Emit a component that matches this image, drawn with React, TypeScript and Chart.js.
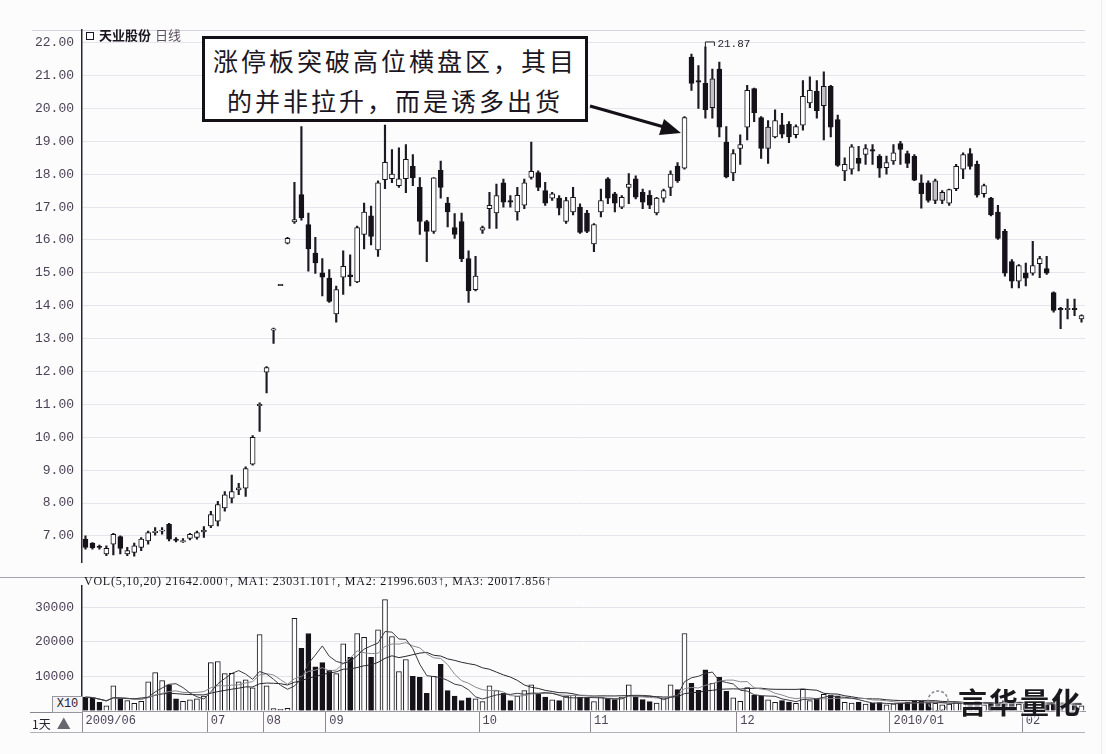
import React, { useEffect, useRef } from 'react';
import { Chart, registerables } from 'chart.js';

Chart.register(...registerables);

// ---- Daily candles (price, yuan) ----
const openP = [
  6.90, 6.78, 6.68, 6.45, 6.75, 6.98, 6.45, 6.50, 6.65, 6.85,
  7.10, 7.14, 7.35, 6.90, 6.82, 6.92, 6.95, 7.12, 7.30, 7.45,
  7.85, 8.15, 8.40, 8.45, 9.18, 10.96, 11.98, 13.26, 14.61, 15.90,
  16.55, 17.38, 16.47, 15.60, 15.00, 14.84, 13.75, 14.87, 14.94, 14.72,
  16.17, 16.73, 15.70, 17.83, 17.86, 17.65, 17.86, 18.24, 17.60, 16.56,
  16.26, 18.12, 17.12, 16.38, 16.56, 15.43, 14.49, 16.30, 16.95, 16.82,
  17.74, 17.20, 16.85, 17.06, 17.90, 18.05, 17.50, 17.27, 17.27, 16.56,
  16.85, 17.00, 16.82, 15.88, 16.85, 17.86, 17.40, 17.00, 17.60, 17.86,
  17.45, 17.36, 16.82, 17.27, 17.60, 18.25, 18.18, 21.56, 20.85, 20.76,
  20.02, 21.20, 18.98, 18.04, 18.78, 19.43, 20.60, 19.72, 18.78, 19.13,
  19.50, 19.52, 19.20, 19.49, 20.17, 20.52, 20.08, 20.67, 19.66, 18.10,
  18.15, 18.48, 18.60, 18.75, 18.54, 18.20, 18.40, 18.93, 18.63, 18.54,
  17.74, 17.74, 17.20, 17.20, 17.12, 17.56, 18.15, 18.63, 18.30, 17.41,
  17.27, 16.85, 16.26, 15.34, 14.75, 15.00, 14.99, 15.28, 15.13, 14.40,
  13.92, 13.88, 13.92, 13.60,
];
const highP = [
  7.00, 6.80, 6.72, 6.70, 7.08, 7.00, 6.65, 6.78, 6.95, 7.15,
  7.25, 7.25, 7.38, 6.95, 6.92, 7.08, 7.15, 7.28, 7.75, 8.05,
  8.35, 8.85, 8.60, 9.10, 10.05, 11.05, 12.15, 13.32, 14.65, 16.08,
  17.75, 19.45, 16.82, 16.08, 15.43, 15.10, 14.60, 15.67, 15.55, 16.42,
  17.12, 17.03, 17.80, 19.49, 18.75, 18.80, 18.90, 18.60, 17.90, 16.60,
  17.90, 18.40, 17.30, 16.80, 16.82, 15.67, 15.50, 16.42, 17.45, 17.70,
  17.85, 17.35, 17.60, 17.85, 18.98, 18.10, 17.75, 17.45, 17.35, 17.30,
  17.60, 17.10, 16.90, 16.50, 17.55, 17.90, 17.45, 17.35, 18.02, 17.95,
  17.55, 17.50, 17.30, 17.55, 18.10, 18.35, 19.75, 21.65, 21.30, 21.87,
  21.20, 21.41, 19.45, 18.75, 19.20, 20.70, 20.62, 19.75, 19.63, 19.96,
  19.85, 19.60, 19.50, 20.85, 20.96, 20.85, 21.11, 20.70, 19.80, 18.50,
  18.90, 18.85, 18.90, 18.90, 18.60, 18.55, 18.90, 19.00, 18.70, 18.60,
  17.98, 17.80, 17.85, 17.50, 17.55, 18.30, 18.65, 18.78, 18.40, 17.70,
  17.30, 17.05, 16.32, 15.40, 15.25, 15.30, 15.96, 15.50, 15.50, 14.42,
  13.95, 14.20, 14.20, 13.72,
];
const lowP = [
  6.60, 6.60, 6.60, 6.40, 6.42, 6.45, 6.40, 6.38, 6.55, 6.75,
  7.02, 7.05, 6.85, 6.82, 6.80, 6.88, 6.90, 6.95, 7.25, 7.30,
  7.75, 8.00, 8.25, 8.20, 9.15, 10.18, 11.35, 12.85, 14.61, 15.88,
  16.50, 16.60, 15.05, 14.98, 14.30, 14.10, 13.50, 14.34, 14.60, 14.70,
  15.73, 15.85, 15.50, 17.56, 17.74, 17.60, 17.44, 17.65, 16.17, 15.34,
  16.20, 17.27, 16.40, 16.05, 15.34, 14.10, 14.45, 16.20, 16.35, 16.35,
  17.00, 17.00, 16.60, 16.95, 17.85, 17.50, 17.05, 17.20, 16.76, 16.50,
  16.76, 16.20, 16.22, 15.64, 16.70, 17.10, 16.85, 16.95, 17.10, 17.25,
  16.95, 16.95, 16.76, 17.15, 17.35, 17.75, 18.15, 20.55, 20.00, 19.70,
  19.70, 19.13, 17.89, 17.80, 18.30, 19.04, 19.60, 18.48, 18.33, 19.10,
  19.10, 18.96, 19.10, 19.34, 20.02, 19.70, 19.04, 19.13, 18.24, 17.80,
  18.00, 18.10, 18.30, 18.30, 17.90, 18.00, 18.30, 18.30, 18.20, 17.80,
  16.97, 17.15, 17.10, 17.10, 17.05, 17.50, 17.86, 18.15, 17.30, 17.30,
  16.73, 16.02, 14.90, 14.54, 14.54, 14.60, 14.93, 14.85, 14.95, 13.80,
  13.30, 13.60, 13.70, 13.50,
];
const closeP = [
  6.65, 6.64, 6.65, 6.62, 7.05, 6.62, 6.55, 6.70, 6.90, 7.10,
  7.14, 7.18, 6.90, 6.86, 6.86, 7.05, 7.10, 7.18, 7.65, 7.95,
  8.25, 8.35, 8.46, 9.05, 10.00, 11.00, 12.12, 13.30, 14.65, 16.05,
  16.62, 16.68, 15.73, 15.30, 14.87, 14.13, 14.49, 15.20, 14.88, 16.38,
  16.85, 16.11, 17.74, 18.36, 18.00, 17.86, 18.45, 17.89, 16.56, 16.26,
  17.89, 17.60, 16.85, 16.17, 15.43, 14.46, 14.90, 16.38, 17.05, 17.35,
  17.15, 17.15, 17.36, 17.74, 18.09, 17.60, 17.12, 17.40, 16.97, 17.20,
  17.30, 16.23, 16.26, 16.47, 17.20, 17.27, 17.12, 17.30, 17.70, 17.30,
  17.15, 17.06, 17.27, 17.50, 18.00, 17.80, 19.72, 20.76, 20.80, 19.96,
  20.90, 19.43, 17.92, 18.63, 18.90, 20.55, 19.87, 18.78, 19.43, 19.63,
  19.22, 19.13, 19.45, 20.37, 20.55, 19.93, 20.67, 19.43, 18.27, 18.30,
  18.83, 18.33, 18.78, 18.70, 18.18, 18.35, 18.65, 18.75, 18.33, 17.82,
  17.41, 17.20, 17.80, 17.45, 17.53, 18.24, 18.60, 18.24, 17.36, 17.65,
  16.76, 16.05, 14.99, 14.75, 15.22, 14.84, 15.22, 15.43, 14.99, 13.86,
  13.88, 13.92, 13.88, 13.70,
];
// candles drawn with a grey body in the source
const grayCandles = [90, 98, 106, 122, 123];

// ---- Daily volume (hands) ----
const volume = [
  4000, 3800, 2500, 1500, 7300, 3600, 3000, 2200, 2800, 8400,
  11100, 8800, 7600, 3500, 2800, 3200, 3500, 4300, 14000, 14300,
  10800, 10900, 8400, 9000, 6700, 22100, 7300, 700, 500, 800,
  26800, 18100, 22400, 12800, 14000, 11800, 10800, 19400, 15500, 22400,
  21300, 15500, 23500, 32200, 21500, 11400, 14900, 10000, 9700, 5100,
  10000, 13500, 5900, 4300, 3000, 3800, 3500, 2700, 7300, 5900,
  5100, 3000, 4300, 5900, 7600, 4900, 4000, 3200, 3000, 4300,
  4500, 4000, 3800, 2700, 4000, 3500, 3300, 4000, 7600, 4300,
  3300, 2700, 2300, 3800, 7600, 6200, 22400, 8000, 6000, 11900,
  8000, 9700, 5700, 3800, 2800, 6800, 4500, 4300, 3200, 2500,
  3000, 2600, 2200, 6300, 3000, 3500, 4800, 4600, 4400, 2500,
  2300, 2600, 2000, 2200, 2400, 1800, 2100, 2300, 2600, 3000,
  2800, 2400, 2200, 1800, 2000, 2600, 2400, 2200, 2900, 1800,
  2300, 2500, 3000, 2800, 2000, 1900, 2300, 1800, 1700, 2500,
  2200, 1800, 1600, 1500,
];

// ---- Axis ticks / labels ----
const priceTicks = [7, 8, 9, 10, 11, 12, 13, 14, 15, 16, 17, 18, 19, 20, 21, 22];
const priceTickLabels = ['7.00', '8.00', '9.00', '10.00', '11.00', '12.00', '13.00', '14.00', '15.00', '16.00', '17.00', '18.00', '19.00', '20.00', '21.00', '22.00'];
const volumeTicks = [0, 10000, 20000, 30000];
const volumeTickLabels = ['', '10000', '20000', '30000'];
const monthIndex = [0, 18, 26, 35, 57, 73, 94, 116, 135];
const monthLabels = ['2009/06', '07', '08', '09', '10', '11', '12', '2010/01', '02'];
const maPeriods = [5, 10, 20];
const highMarkIndex = 89;

const categories = openP.map((_, i) => {
  const k = monthIndex.indexOf(i);
  return k >= 0 ? monthLabels[k] : '';
});

const movingAverage = (vals: number[], n: number) =>
  vals.map((_, i) => {
    const w = vals.slice(Math.max(0, i - n + 1), i + 1);
    return w.reduce((a, b) => a + b, 0) / w.length;
  });

const INK = '#16121a';
const TICK_COLOR = '#4d4258';
const TICK_FONT = { family: 'Liberation Mono', size: 13 };

export default function App() {
  const priceRef = useRef<HTMLCanvasElement | null>(null);
  const volRef = useRef<HTMLCanvasElement | null>(null);

  useEffect(() => {
    const bodyColors = openP.map((o, i) =>
      closeP[i] >= o ? (grayCandles.includes(i) ? '#c2c0c6' : '#ffffff') : INK
    );

    const markerPlugin = {
      id: 'highMarker',
      afterDatasetsDraw(chart: any) {
        const { ctx, scales } = chart;
        const x = scales.x.getPixelForValue(highMarkIndex);
        const y = scales.y.getPixelForValue(highP[highMarkIndex]);
        ctx.save();
        ctx.strokeStyle = '#222';
        ctx.lineWidth = 1;
        ctx.beginPath();
        ctx.moveTo(x, y);
        ctx.lineTo(x, y - 5);
        ctx.lineTo(x + 9, y - 5);
        ctx.lineTo(x + 9, y - 1);
        ctx.stroke();
        ctx.fillStyle = '#2a2430';
        ctx.font = '11px "Liberation Mono"';
        ctx.textBaseline = 'middle';
        ctx.fillText(highP[highMarkIndex].toFixed(2), x + 12, y - 3);
        ctx.restore();
      },
    };

    const priceChart = new Chart(priceRef.current as HTMLCanvasElement, {
      type: 'bar',
      data: {
        labels: categories,
        datasets: [
          {
            type: 'bar',
            label: 'body',
            data: openP.map((o, i) => [o, closeP[i]]) as any,
            backgroundColor: bodyColors,
            borderColor: INK,
            borderWidth: 1,
            borderSkipped: false,
            barThickness: 5,
            grouped: false,
            order: 0,
          } as any,
          {
            type: 'bar',
            label: 'wick',
            data: lowP.map((l, i) => [l, highP[i]]) as any,
            backgroundColor: '#1e1a24',
            borderWidth: 0,
            barThickness: 1.5,
            grouped: false,
            order: 1,
          } as any,
        ],
      },
      options: {
        responsive: false,
        animation: false,
        layout: { padding: { top: 30, right: 21, bottom: 1, left: 0 } },
        plugins: { legend: { display: false }, tooltip: { enabled: false } },
        scales: {
          x: { type: 'category', display: false, offset: true },
          y: {
            min: 6.2,
            max: 22.385,
            afterBuildTicks: (s: any) => {
              s.ticks = priceTicks.map((v) => ({ value: v }));
            },
            afterFit: (s: any) => {
              s.width = 82;
            },
            ticks: {
              callback: (v: any) => priceTickLabels[priceTicks.indexOf(Number(v))] ?? '',
              font: TICK_FONT,
              color: TICK_COLOR,
              padding: 8,
            },
            grid: { color: '#e5e5eb', drawTicks: false },
            border: { display: true, color: '#2c2632', width: 1.5 },
          },
        },
      } as any,
      plugins: [markerPlugin],
    });

    const volColors = openP.map((o, i) => (closeP[i] >= o ? '#ffffff' : INK));
    const maColors = ['#3c3a40', '#8a888e', '#2a282e'];

    const volChart = new Chart(volRef.current as HTMLCanvasElement, {
      type: 'bar',
      data: {
        labels: categories,
        datasets: [
          ...maPeriods.map((p, k) => ({
            type: 'line',
            label: 'MA' + p,
            data: movingAverage(volume, p),
            borderColor: maColors[k],
            borderWidth: 1,
            pointRadius: 0,
            tension: 0,
            order: k,
          })),
          {
            type: 'bar',
            label: 'VOL',
            data: volume,
            backgroundColor: volColors,
            borderColor: INK,
            borderWidth: 1,
            barThickness: 5,
            order: 10,
          },
        ] as any,
      },
      options: {
        responsive: false,
        animation: false,
        layout: { padding: { top: 7, right: 21, bottom: 21, left: 0 } },
        plugins: { legend: { display: false }, tooltip: { enabled: false } },
        scales: {
          x: {
            type: 'category',
            offset: true,
            afterFit: (s: any) => {
              s.height = 22;
            },
            grid: {
              offset: true,
              drawOnChartArea: false,
              drawTicks: true,
              tickLength: 21,
              color: (ctx: any) => (monthIndex.includes(ctx.index) ? '#8e8694' : 'rgba(0,0,0,0)'),
            },
            border: { display: true, color: '#9c98a0' },
            ticks: {
              autoSkip: false,
              maxRotation: 0,
              minRotation: 0,
              align: 'start',
              padding: -18,
              callback: (_v: any, i: number) => categories[i],
              font: { family: 'Liberation Mono', size: 12 },
              color: TICK_COLOR,
            },
          },
          y: {
            min: 0,
            max: 36200,
            afterBuildTicks: (s: any) => {
              s.ticks = volumeTicks.map((v) => ({ value: v }));
            },
            afterFit: (s: any) => {
              s.width = 82;
            },
            ticks: {
              callback: (v: any) => volumeTickLabels[volumeTicks.indexOf(Number(v))] ?? '',
              font: TICK_FONT,
              color: TICK_COLOR,
              padding: 8,
            },
            grid: { color: '#e2e2e8', drawTicks: false },
            border: { display: true, color: '#2c2632', width: 1.5 },
          },
        },
      } as any,
    });

    return () => {
      priceChart.destroy();
      volChart.destroy();
    };
  }, []);

  const line = (left: number, top: number, width: number, color: string) => (
    <div style={{ position: 'absolute', left, top, width, height: 1, background: color }} />
  );

  return (
    <div
      style={{
        position: 'fixed',
        left: 0,
        top: 0,
        width: 1106,
        height: 754,
        background: '#fcfcfd',
        overflow: 'hidden',
      }}
    >
      {line(32, 30, 1053, '#d6d4da')}
      {line(0, 577, 1085, '#a8a4ac')}
      {line(30, 732, 1055, '#b4b0b8')}
      {line(30, 712, 52, '#8a8690')}
      <div style={{ position: 'absolute', left: 1101, top: 0, width: 1, height: 754, background: '#ececee' }} />

      <canvas ref={priceRef} width={1106} height={578} style={{ position: 'absolute', left: 0, top: 0 }} />
      <canvas ref={volRef} width={1106} height={184} style={{ position: 'absolute', left: 0, top: 570 }} />

      {/* title */}
      <div
        style={{
          position: 'absolute',
          left: 86,
          top: 32,
          width: 6,
          height: 6,
          border: '1.5px solid #1a1620',
        }}
      />
      <div
        style={{
          position: 'absolute',
          left: 99,
          top: 26,
          fontFamily: '"Noto Sans CJK SC", sans-serif',
          fontSize: 13,
          color: '#1a1620',
          whiteSpace: 'nowrap',
          lineHeight: '18px',
        }}
      >
        <span style={{ fontWeight: 700 }}>天业股份</span>
        <span style={{ color: '#5a5060', marginLeft: 4 }}>日线</span>
      </div>

      {/* annotation */}
      <div
        style={{
          position: 'absolute',
          left: 202,
          top: 36,
          width: 380,
          height: 79,
          border: '3px solid #141018',
          background: '#ffffff',
          fontFamily: '"Noto Sans CJK SC", sans-serif',
          fontSize: 25,
          color: '#1c1622',
          textAlign: 'center',
          lineHeight: '40px',
          letterSpacing: 3,
          paddingTop: 1,
          boxSizing: 'content-box',
        }}
      >
        <div style={{ whiteSpace: 'nowrap' }}>涨停板突破高位横盘区，其目</div>
        <div style={{ whiteSpace: 'nowrap' }}>的并非拉升，而是诱多出货</div>
      </div>
      <svg width={1106} height={754} style={{ position: 'absolute', left: 0, top: 0, pointerEvents: 'none' }}>
        <line x1={590} y1={106} x2={664} y2={127} stroke="#141018" strokeWidth={3} />
        <polygon points="681,133 659,135 664,119" fill="#141018" />
        <circle cx={938} cy={701} r={10} fill="none" stroke="#8a8890" strokeWidth={1.5} strokeDasharray="3 2" />
      </svg>

      {/* volume header */}
      <div
        style={{
          position: 'absolute',
          left: 84,
          top: 574,
          fontFamily: '"Liberation Serif", serif',
          fontSize: 12,
          color: '#15121a',
          whiteSpace: 'nowrap',
          letterSpacing: 0.75,
          lineHeight: '14px',
        }}
      >
        VOL(5,10,20) 21642.000↑, MA1: 23031.101↑, MA2: 21996.603↑, MA3: 20017.856↑
      </div>

      {/* X10 box and period box */}
      <div
        style={{
          position: 'absolute',
          left: 52,
          top: 696,
          width: 29,
          height: 15,
          border: '1px solid #9a96a0',
          background: '#f4f4f6',
          fontFamily: '"Liberation Mono", monospace',
          fontSize: 12,
          lineHeight: '15px',
          color: '#2a2430',
          textAlign: 'center',
        }}
      >
        X10
      </div>
      <div
        style={{
          position: 'absolute',
          left: 32,
          top: 715,
          fontFamily: '"Noto Sans CJK SC", sans-serif',
          fontSize: 12,
          lineHeight: '16px',
          color: '#2a2430',
          whiteSpace: 'nowrap',
        }}
      >
        1天<span style={{ color: '#6a6670', marginLeft: 6, fontSize: 14 }}>▲</span>
      </div>

      {/* watermark */}
      <div
        style={{
          position: 'absolute',
          left: 958,
          top: 684,
          fontFamily: '"Noto Sans CJK SC", sans-serif',
          fontSize: 29,
          fontWeight: 700,
          color: '#1a1a1e',
          letterSpacing: 2,
          whiteSpace: 'nowrap',
          lineHeight: '34px',
          textShadow: '0 0 3px #fff, 0 0 3px #fff',
        }}
      >
        言华量化
      </div>
    </div>
  );
}
